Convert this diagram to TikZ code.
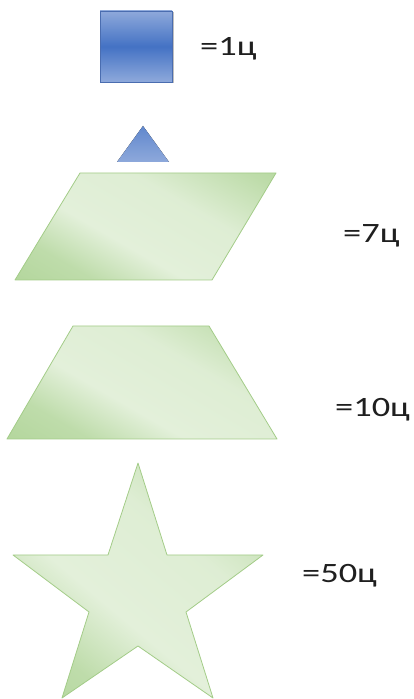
\documentclass[tikz,border=0pt]{standalone}
\usepackage{fontspec}
\newfontfamily\lblfont[FakeStretch=1.3]{Carlito}
\definecolor{bluedark}{HTML}{4472C4}
\definecolor{bluelight}{HTML}{8EA9DB}
\definecolor{blueedge}{HTML}{4A6DB0}
\definecolor{greendark}{HTML}{A6CF8B}
\definecolor{greenlight}{HTML}{E3F0DA}
\definecolor{greenedge}{HTML}{A3CC88}
\pgfdeclarehorizontalshading{greensh}{100bp}{color(0bp)=(greendark); color(28bp)=(greendark!60!greenlight); color(42bp)=(greenlight); color(62bp)=(greenlight!92!greendark); color(80bp)=(greendark!60!greenlight); color(100bp)=(greendark)}
\tikzset{
  lbl/.style={anchor=base west, inner sep=0pt, font=\lblfont\fontsize{28}{32}\selectfont, text=black!88},
  greenshape/.style={draw=greenedge, line width=0.8pt, line join=round, shading=greensh},
}
\begin{document}
\begin{tikzpicture}[x=1pt,y=1pt]
\useasboundingbox (0,0) rectangle (414,699);
% square with shadow
\fill[black!25] (101.5,615.5) rectangle (173.5,686.5);
\draw[blueedge, line width=0.8pt, top color=bluelight, bottom color=bluelight, middle color=bluedark] (100,617) rectangle (172,688);
\node[lbl] (t1) at (200,643) {=1ц};
% triangle
\fill[top color=bluedark!85, bottom color=bluelight] (143,573) -- (169,537) -- (117,537) -- cycle;
% parallelogram
\draw[greenshape, shading angle=60] (80,526) -- (276,526) -- (212,419) -- (15,419) -- cycle;
\node[lbl] (t7) at (343,456) {=7ц};
% trapezoid
\draw[greenshape, shading angle=60] (73,373) -- (209,373) -- (277,260) -- (7,260) -- cycle;
\node[lbl] (t10) at (335,282) {=10ц};
% star
\draw[greenshape, shading angle=50]
  (138,236) -- (167,144) -- (263,144) -- (186,87) -- (213,1) -- (138,53)
  -- (62,1) -- (89,87) -- (13,144) -- (108,144) -- cycle;
\node[lbl] (t50) at (302,116) {=50ц};
\end{tikzpicture}
\end{document}
